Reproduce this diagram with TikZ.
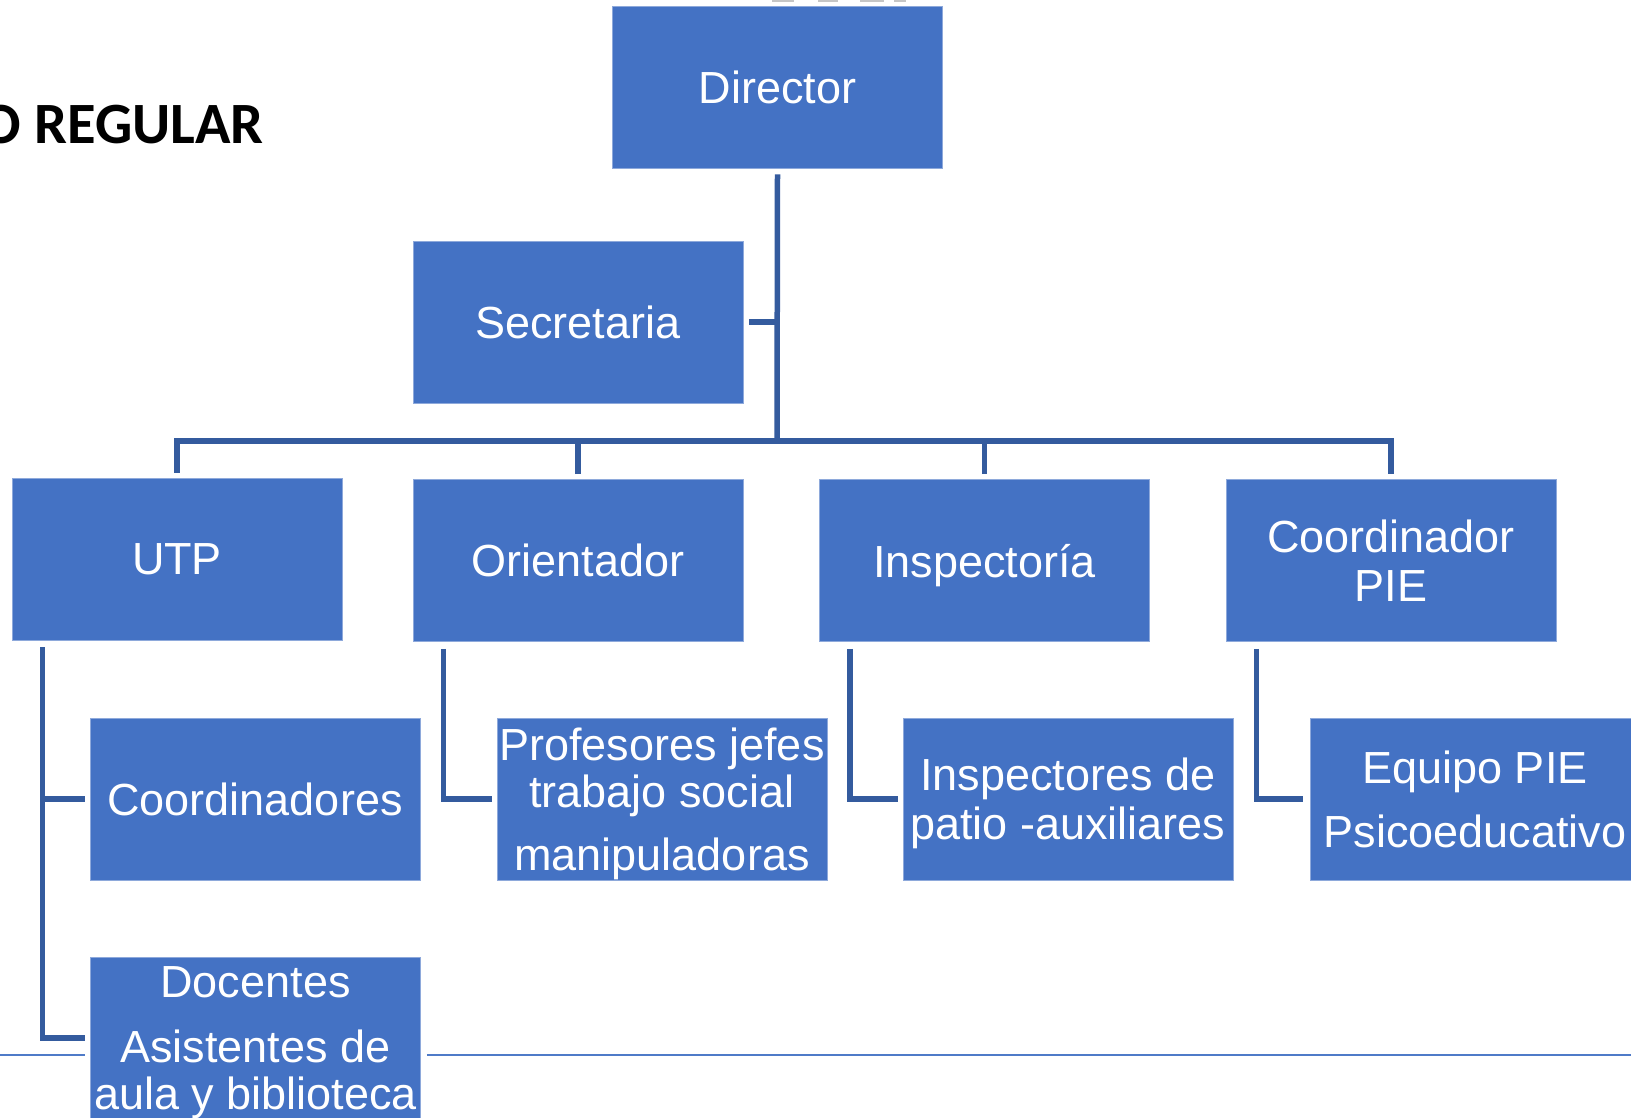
\documentclass[tikz,border=0pt]{standalone}
\usepackage{fontspec}
\setmainfont{Liberation Sans}
\newfontfamily\titlefont{Carlito}
\usetikzlibrary{calc}
\definecolor{boxblue}{HTML}{4472C4}
\definecolor{connblue}{HTML}{345B9E}
\definecolor{boxedge}{HTML}{8EA9DB}
\definecolor{thinblue}{HTML}{4F7BC8}
\begin{document}
\begin{tikzpicture}[x=1pt,y=-1pt,
  orgbox/.style={fill=boxblue, draw=boxedge, line width=0.8pt,
    minimum width=330pt, minimum height=162pt, inner sep=0pt,
    text=white, font=\fontsize{45}{47}\selectfont, align=center, text depth=0pt},
  conn/.style={draw=connblue, line width=5.5pt, line cap=butt, line join=miter},
  thinline/.style={draw=thinblue, line width=2.2pt},
  frag/.style={fill=gray!45}]
\useasboundingbox (0,0) rectangle (1631,1118);

% faint cut-off fragments at the top edge
\fill[frag] (772,0) rectangle (794,2.5);
\fill[frag] (818,0) rectangle (838,2);
\fill[frag] (860,0) rectangle (884,2.5);
\fill[frag] (894,0) rectangle (906,2);

% title (cut at the left edge)
\node[anchor=base east, inner sep=0pt, font=\titlefont\bfseries\fontsize{58.5}{58.5}\selectfont] (title) at (264,144) {O REGULAR};

% boxes
\node[orgbox] (dir)   at (777.5,87)   {Director};
\node[orgbox] (sec)   at (578,322)    {Secretaria};
\node[orgbox] (utp)   at (177,559)    {UTP};
\node[orgbox] (ori)   at (578,560.5)  {Orientador};
\node[orgbox] (insp)  at (984.5,560.5){Inspectoría};
\node[orgbox] (pie)   at (1391,560.5) {Coordinador\\[2pt]PIE};
\node[orgbox] (coord) at (255,799)    {Coordinadores};
\node[orgbox] (prof)  at (662,799)    {Profesores jefes\\[0pt]trabajo social\\[16pt]manipuladoras};
\node[orgbox] (inspp) at (1068,799)   {Inspectores de\\[2pt]patio -auxiliares};
\node[orgbox] (eq)    at (1475,799)   {Equipo PIE\\[17pt]Psicoeducativo};
\node[orgbox] (doc)   at (255.5,1038) {Docentes\\[18pt]Asistentes de\\[0pt]aula y biblioteca};

% thin horizontal rule behind the Docentes box
\draw[thinline] (0,1055) -- ($(doc.west)+(-5,17)$);
\draw[thinline] ($(doc.east)+(6,17)$) -- (1631,1055);

% main tree connectors
\coordinate (bar) at (777,441);
\draw[conn] ($(dir.south)+(0,6)$) -- (bar);
\draw[conn] ($(sec.east)+(6,0)$) -- (sec.east -| bar);
\draw[conn] ($(utp.north)+(0,-5)$) |- (bar) -| ($(pie.north)+(0,-5)$);
\draw[conn] ($(ori.north)+(0,-5)$) -- (ori.north |- bar);
\draw[conn] ($(insp.north)+(0,-5)$) -- (insp.north |- bar);

% sub-level connectors
\coordinate (utpx) at ($(utp.south west)+(31,7)$);
\draw[conn] (utpx) |- ($(doc.west)+(-5,0)$);
\draw[conn] (utpx |- coord.west) -- ($(coord.west)+(-5,0)$);
\draw[conn] ($(ori.south west)+(31,7)$) |- ($(prof.west)+(-5,0)$);
\draw[conn] ($(insp.south west)+(31,7)$) |- ($(inspp.west)+(-5,0)$);
\draw[conn] ($(pie.south west)+(31,7)$) |- ($(eq.west)+(-7,0)$);
\end{tikzpicture}
\end{document}
